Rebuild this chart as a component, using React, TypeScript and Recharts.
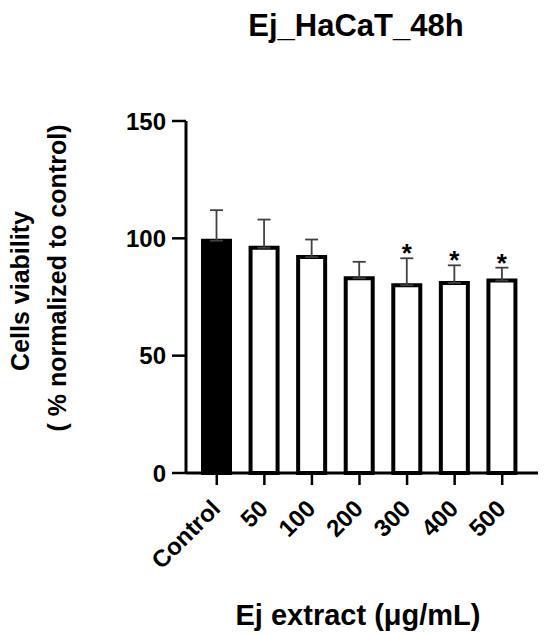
import { BarChart, Bar, Cell, XAxis, YAxis, ErrorBar, LabelList, Label } from 'recharts';

const categories = ['Control', '50', '100', '200', '300', '400', '500'];
const viability = [99, 96, 92, 83, 80, 81, 82];
const sd = [13, 12, 7.5, 7, 11.5, 7.5, 5.5];
const significant = [false, false, false, false, true, true, true];
const yTicks = [0, 50, 100, 150];

const FONT = '"Liberation Sans", Arial, sans-serif';

const data = categories.map((name, i) => ({
  name,
  value: viability[i],
  err: [0, sd[i]],
  star: significant[i] ? '*' : '',
}));

function XTick({ x, y, payload }: any) {
  const px = x + 5;
  const py = y + 23;
  return (
    <text
      x={px}
      y={py}
      transform={`rotate(-45, ${px}, ${py})`}
      textAnchor="end"
      fontFamily={FONT}
      fontSize={24}
      fontWeight={700}
      fill="#000"
    >
      {payload.value}
    </text>
  );
}

function Star(props: any) {
  const { x, y, width, height, index, value } = props;
  if (!value) return null;
  // px per unit from the bar itself, to sit the star above the error cap
  const unit = height / viability[index];
  const errTop = y - sd[index] * unit;
  return (
    <text x={x + width / 2} y={errTop + 4} textAnchor="middle" fontFamily={FONT} fontSize={26} fontWeight={700} fill="#000">
      {value}
    </text>
  );
}

function YTitle() {
  return (
    <g fontFamily={FONT} fontWeight={700} fontSize={25} fill="#000">
      <text x={29} y={291} transform="rotate(-90, 29, 291)" textAnchor="middle">Cells viability</text>
      <text x={66} y={278} transform="rotate(-90, 66, 278)" textAnchor="middle">( % normalized to control)</text>
    </g>
  );
}

function XTitle({ viewBox }: any) {
  const cx = viewBox.x + viewBox.width / 2 - 4;
  return (
    <text x={cx} y={625} textAnchor="middle" fontFamily={FONT} fontWeight={700} fontSize={29} fill="#000">
      Ej extract (μg/mL)
    </text>
  );
}

export default function App() {
  return (
    <div style={{ position: 'absolute', left: 0, top: 0, width: 550, height: 635, background: '#fff' }}>
      <div
        style={{
          position: 'absolute',
          left: 356,
          top: 10,
          transform: 'translateX(-50%)',
          fontFamily: FONT,
          fontWeight: 700,
          fontSize: 31,
          lineHeight: '31px',
          whiteSpace: 'nowrap',
          color: '#000',
        }}
      >
        Ej_HaCaT_48h
      </div>
      <BarChart width={550} height={635} data={data} margin={{ top: 121, right: 12, left: 106, bottom: 0 }}>
        <XAxis
          dataKey="name"
          interval={0}
          height={162}
          padding={{ left: 7, right: 12 }}
          tickSize={12}
          axisLine={{ stroke: '#000', strokeWidth: 3 }}
          tickLine={{ stroke: '#000', strokeWidth: 2.5 }}
          tick={<XTick />}
        >
          <Label content={<XTitle />} />
        </XAxis>
        <YAxis
          width={80}
          domain={[0, 150]}
          ticks={yTicks}
          tickSize={14}
          tickMargin={6}
          axisLine={{ stroke: '#000', strokeWidth: 3 }}
          tickLine={{ stroke: '#000', strokeWidth: 2.5 }}
          tick={{ fill: '#000', fontSize: 24, fontWeight: 700, fontFamily: FONT }}
        >
          <Label content={<YTitle />} />
        </YAxis>
        <Bar dataKey="value" barSize={27} stroke="#000" strokeWidth={4} isAnimationActive={false}>
          {data.map((d, i) => (
            <Cell key={d.name} fill={i === 0 ? '#000' : '#fff'} />
          ))}
          <ErrorBar dataKey="err" width={6.5} stroke="#404040" strokeWidth={1.8} isAnimationActive={false} />
          <LabelList dataKey="star" content={<Star />} />
        </Bar>
      </BarChart>
    </div>
  );
}
